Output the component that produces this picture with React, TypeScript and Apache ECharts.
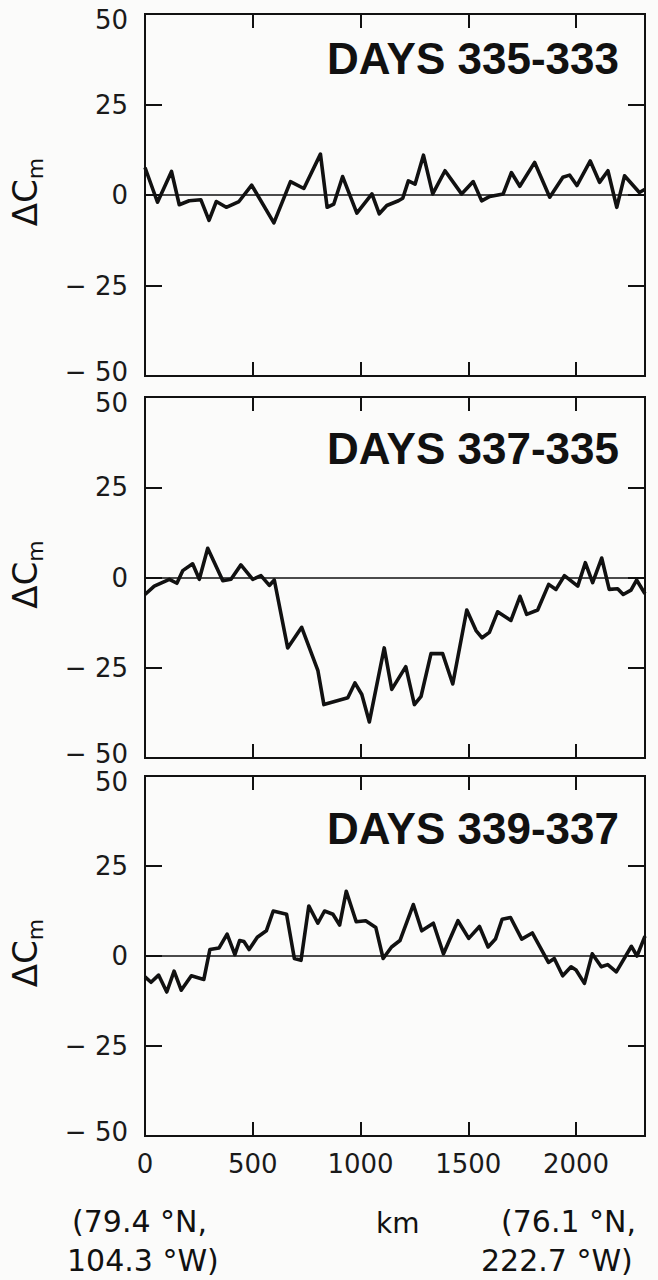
import React, { useEffect, useRef } from "react";
import * as echarts from "echarts";

// ---------- data ----------
const panelTitles = ["DAYS 335-333", "DAYS 337-335", "DAYS 339-337"];
const xTickValues = [0, 500, 1000, 1500, 2000];
const yTickValues = [-50, -25, 0, 25, 50];

const km1 = [0, 58, 123, 159, 205, 259, 297, 331, 377, 436, 495, 598, 675, 737, 814, 845, 876, 917, 983, 1053, 1087, 1122, 1176, 1196, 1222, 1253, 1292, 1335, 1392, 1469, 1523, 1562, 1600, 1662, 1700, 1739, 1808, 1878, 1939, 1970, 2004, 2066, 2109, 2148, 2189, 2225, 2294, 2320];
const dc1 = [7.6, -2, 6.5, -2.7, -1.6, -1.3, -7, -1.8, -3.4, -1.8, 2.7, -7.7, 3.7, 1.8, 11.3, -3.4, -2.5, 5.1, -5, 0.3, -5.2, -2.9, -1.6, -0.9, 3.9, 3, 11, 0.3, 6.7, 0.3, 3.7, -1.6, -0.4, 0.3, 6.2, 2.4, 9, -0.6, 4.9, 5.5, 2.6, 9.4, 3.5, 6.7, -3.4, 5.3, 0.7, 1.6];

const km2 = [0, 43, 113, 148, 175, 221, 252, 291, 361, 399, 445, 500, 538, 577, 600, 662, 727, 802, 830, 941, 974, 1006, 1041, 1110, 1145, 1210, 1250, 1281, 1327, 1381, 1428, 1493, 1536, 1564, 1598, 1636, 1698, 1740, 1771, 1822, 1873, 1907, 1946, 2008, 2043, 2077, 2119, 2154, 2193, 2219, 2255, 2281, 2320];
const dc2 = [-4.7, -2.4, -0.5, -1.6, 1.9, 3.8, -0.5, 8.1, -0.9, -0.5, 3.5, -0.5, 0.5, -2.2, -0.7, -19.5, -13.8, -25.7, -35.2, -33.3, -29.2, -32.4, -40, -19.5, -31, -24.7, -35.2, -32.9, -21.1, -21.1, -29.5, -9, -14.7, -16.7, -15.2, -9.5, -11.9, -5.2, -10.2, -9, -1.9, -3.3, 0.5, -2.4, 4.1, -1.4, 5.4, -3.3, -3.1, -4.7, -3.5, -0.7, -4.5];

const km3 = [0, 28, 63, 101, 135, 168, 215, 273, 301, 343, 381, 417, 439, 459, 483, 521, 563, 595, 657, 693, 724, 760, 802, 833, 872, 903, 934, 980, 1024, 1071, 1105, 1144, 1183, 1245, 1284, 1338, 1385, 1452, 1502, 1552, 1592, 1626, 1657, 1696, 1748, 1797, 1872, 1899, 1938, 1977, 2000, 2039, 2075, 2117, 2147, 2187, 2257, 2283, 2320];
const dc3 = [-5.8, -7.3, -5.3, -10, -4.2, -9.5, -5.5, -6.5, 1.8, 2.2, 6.1, 0.4, 4.3, 4, 1.8, 5.2, 7, 12.5, 11.6, -0.7, -1.2, 13.9, 9.1, 12.5, 11.6, 8.6, 18, 9.5, 9.8, 7.9, -0.7, 2.5, 4.3, 14.3, 7, 9.1, 0.6, 9.8, 4.9, 8.2, 2.5, 4.7, 10.2, 10.7, 4.7, 6.4, -1.8, -0.7, -5.5, -3, -3.9, -7.6, 0.6, -3, -2.4, -4.4, 2.7, 0, 5.5];

const bottomLeftLines = ["(79.4 °N,", "104.3 °W)"];
const bottomRightLines = ["(76.1 °N,", "222.7 °W)"];
const xUnit = "km";

// ---------- layout ----------
const X_MAX = 2320;
const LEFT = 145;
const PLOT_W = 500;
const PANELS = [
  { top: 14, height: 362, titleY: 58 },
  { top: 397, height: 361, titleY: 448 },
  { top: 776, height: 360, titleY: 828 },
];
const INK = "#111";
const LABEL_FONT = "DejaVu Sans";

const seriesKm = [km1, km2, km3];
const seriesDc = [dc1, dc2, dc3];

function yLabel(v: number) {
  const txt = v < 0 ? "\u2212 " + Math.abs(v) : String(v);
  if (v === yTickValues[yTickValues.length - 1]) return "{top|" + txt + "}";
  if (v === yTickValues[0]) return "{bot|" + txt + "}";
  return txt;
}

function buildOption() {
  const grid: any[] = [];
  const xAxis: any[] = [];
  const yAxis: any[] = [];
  const series: any[] = [];
  const graphic: any[] = [];

  PANELS.forEach((p, i) => {
    grid.push({
      left: LEFT,
      top: p.top,
      width: PLOT_W,
      height: p.height,
      show: true,
      borderColor: INK,
      borderWidth: 2,
      backgroundColor: "transparent",
    });
    ["bottom", "top"].forEach((pos) => {
      xAxis.push({
        gridIndex: i,
        type: "value",
        position: pos,
        min: 0,
        max: X_MAX,
        interval: 500,
        axisLine: { show: false, onZero: false },
        splitLine: { show: false },
        axisTick: { show: true, inside: true, length: 14, lineStyle: { color: INK, width: 2 } },
        axisLabel: {
          show: pos === "bottom" && i === PANELS.length - 1,
          margin: 15,
          color: "#1a1a1a",
          fontSize: 26,
          fontFamily: LABEL_FONT,
          formatter: (v: number) => (xTickValues.includes(v) ? String(v) : ""),
        },
      });
    });
    ["left", "right"].forEach((pos) => {
      yAxis.push({
        gridIndex: i,
        type: "value",
        position: pos,
        min: yTickValues[0],
        max: yTickValues[yTickValues.length - 1],
        interval: 25,
        axisLine: { show: false, onZero: false },
        splitLine: { show: false },
        axisTick: { show: true, inside: true, length: 17, lineStyle: { color: INK, width: 2 } },
        axisLabel: {
          show: pos === "left",
          margin: 17,
          color: "#1a1a1a",
          fontSize: 26,
          fontFamily: LABEL_FONT,
          formatter: yLabel,
          rich: {
            top: { fontSize: 26, fontFamily: LABEL_FONT, color: "#1a1a1a", padding: [12, 0, 0, 0] },
            bot: { fontSize: 26, fontFamily: LABEL_FONT, color: "#1a1a1a", padding: [0, 0, 8, 0] },
          },
        },
      });
    });
    const km = seriesKm[i];
    const dc = seriesDc[i];
    series.push({
      type: "line",
      xAxisIndex: i * 2,
      yAxisIndex: i * 2,
      data: km.map((k, j) => [k, dc[j]]),
      symbol: "none",
      lineStyle: { color: INK, width: 3.6, join: "round" },
      z: 3,
      markLine: {
        silent: true,
        symbol: "none",
        label: { show: false },
        lineStyle: { color: INK, width: 1.6, type: "solid" },
        data: [{ yAxis: 0 }],
        z: 2,
      },
    });

    graphic.push({
      type: "text",
      x: 619,
      y: p.titleY,
      style: {
        text: panelTitles[i],
        fill: INK,
        font: "bold 44px 'Liberation Sans', Arial, sans-serif",
        align: "right",
        verticalAlign: "middle",
      },
    });
    graphic.push({
      type: "text",
      x: 27,
      y: p.top + p.height / 2 - 3,
      rotation: Math.PI / 2,
      style: {
        text: "{a|\u0394C}{b|m}",
        fill: INK,
        align: "center",
        verticalAlign: "middle",
        rich: {
          a: { fontSize: 34, fontFamily: LABEL_FONT, fill: INK, padding: [0, 0, 5, 0] },
          b: { fontSize: 22, fontFamily: LABEL_FONT, fill: INK, verticalAlign: "bottom" },
        },
      },
    });
  });

  bottomLeftLines.forEach((t, j) => {
    graphic.push({
      type: "text",
      x: j === 0 ? 72 : 67,
      y: 1221 + j * 39,
      style: { text: t, fill: INK, fontSize: 30, fontFamily: LABEL_FONT, align: "left", verticalAlign: "middle" },
    });
  });
  bottomRightLines.forEach((t, j) => {
    graphic.push({
      type: "text",
      x: j === 0 ? 501 : 481,
      y: 1221 + j * 39,
      style: { text: t, fill: INK, fontSize: 30, fontFamily: LABEL_FONT, align: "left", verticalAlign: "middle" },
    });
  });
  graphic.push({
    type: "text",
    x: 376,
    y: 1223,
    style: { text: xUnit, fill: INK, fontSize: 28, fontFamily: LABEL_FONT, align: "left", verticalAlign: "middle" },
  });

  return {
    animation: false,
    backgroundColor: "#fbfbfa",
    grid,
    xAxis,
    yAxis,
    series,
    graphic,
  };
}

export default function App() {
  const ref = useRef<HTMLDivElement>(null);
  useEffect(() => {
    document.body.style.margin = "0";
    const chart = echarts.init(ref.current!, undefined, { renderer: "svg" });
    chart.setOption(buildOption() as any);
    return () => chart.dispose();
  }, []);
  return <div ref={ref} style={{ width: 658, height: 1280 }} />;
}
